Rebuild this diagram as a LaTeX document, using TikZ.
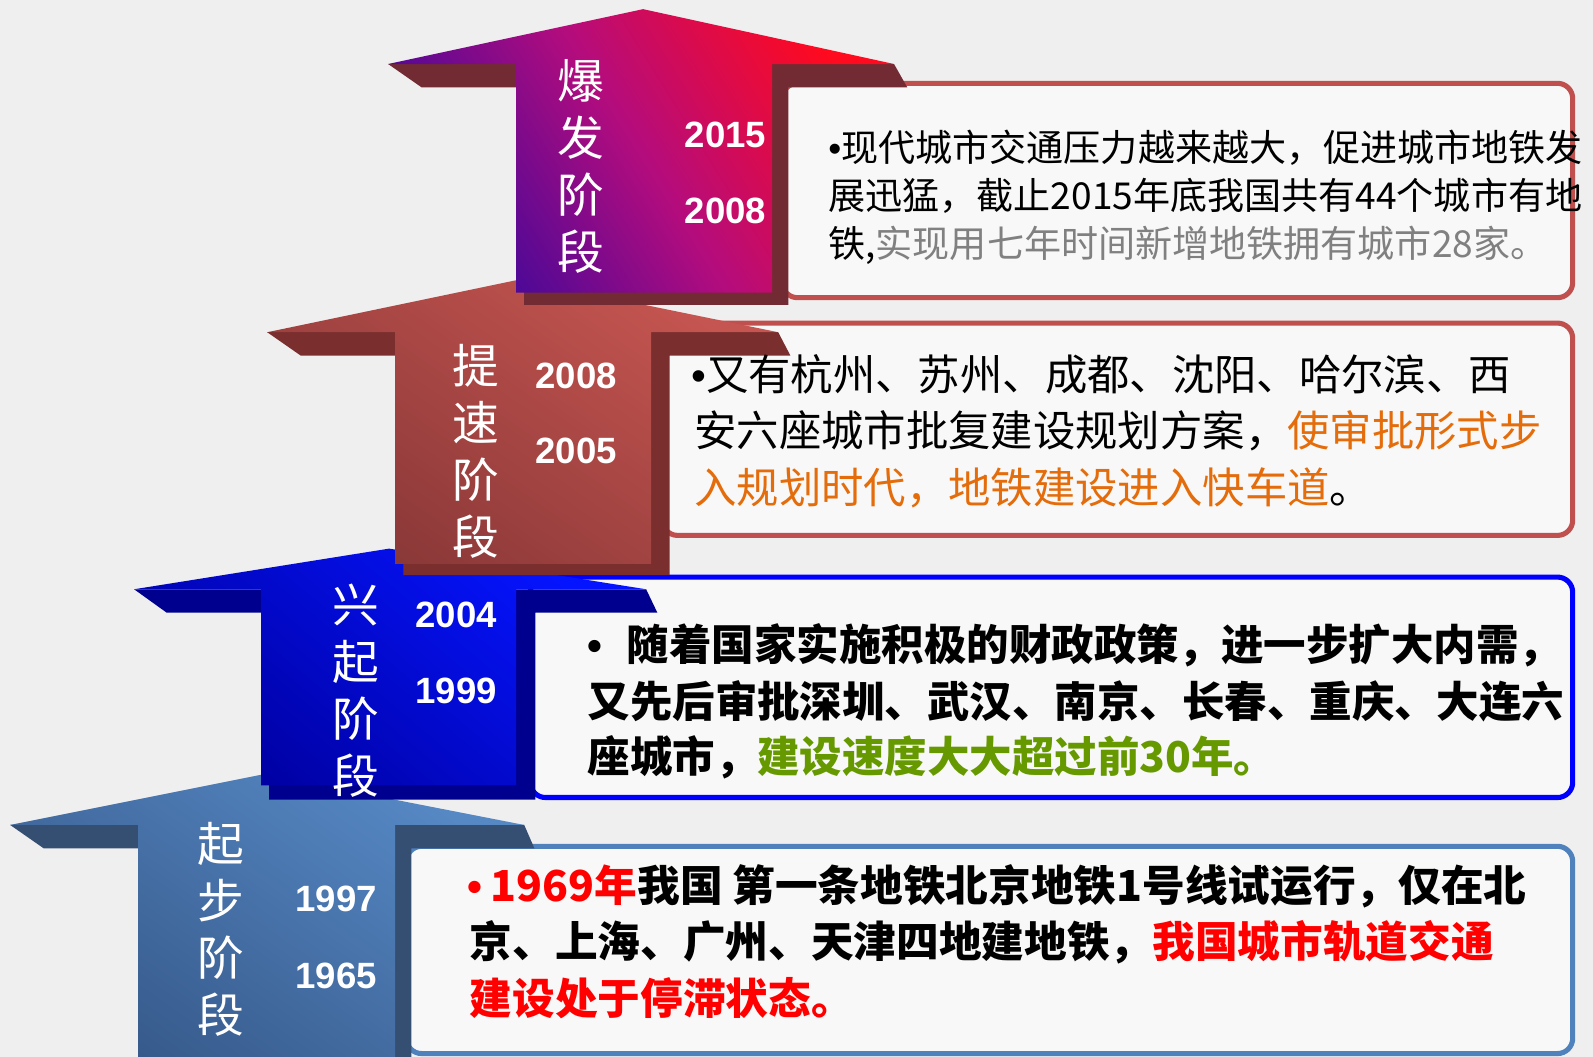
\documentclass[tikz,border=0pt]{standalone}
\usepackage{fontspec}
\setmainfont{Liberation Sans}
\newfontfamily\cjk{Noto Sans CJK SC}
\newfontfamily\lat{Liberation Sans}
\definecolor{bgc}{RGB}{239,239,239}
\definecolor{boxfill}{RGB}{248,248,248}
\definecolor{redline}{RGB}{192,80,77}
\definecolor{blueline}{RGB}{0,0,255}
\definecolor{steelline}{RGB}{79,129,189}
\definecolor{tgray}{RGB}{128,128,128}
\definecolor{torange}{RGB}{228,108,10}
\definecolor{tgreen}{RGB}{102,153,0}
\definecolor{tred}{RGB}{255,0,0}
\definecolor{aOtop}{RGB}{255,10,30}
\definecolor{aOmid}{RGB}{180,12,125}
\definecolor{aObot}{RGB}{60,8,155}
\definecolor{aOdark}{RGB}{115,43,51}
\definecolor{aTtop}{RGB}{197,85,80}
\definecolor{aTbot}{RGB}{138,56,56}
\definecolor{aTdark}{RGB}{122,46,46}
\definecolor{aHtop}{RGB}{5,20,255}
\definecolor{aHbot}{RGB}{0,0,160}
\definecolor{aHdark}{RGB}{0,0,143}
\definecolor{aFtop}{RGB}{86,136,196}
\definecolor{aFbot}{RGB}{54,89,138}
\definecolor{aFdark}{RGB}{53,79,114}
\newcommand\bul{{\lat •}}
\begin{document}
\begin{tikzpicture}[x=0.5pt,y=-0.5pt,
  infobox/.style={rounded corners=7.5pt, line width=2.5pt, fill=boxfill},
  faceO/.style={top color=aOtop, bottom color=aObot, middle color=aOmid, shading angle=-58},
  faceT/.style={top color=aTtop, bottom color=aTbot, shading angle=-35},
  faceH/.style={top color=aHtop, bottom color=aHbot, shading angle=-40},
  faceF/.style={top color=aFtop, bottom color=aFbot, shading angle=-35},
  stagelbl/.style={text=white, inner sep=0, align=center, font=\cjk\fontsize{23}{28}\selectfont},
  yearlbl/.style={text=white, inner sep=0, font=\lat\bfseries\fontsize{18}{20}\selectfont},
  tO/.style={anchor=west, inner sep=0, font=\cjk\fontsize{18.25}{20}\selectfont},
  tT/.style={anchor=west, inner sep=0, font=\cjk\fontsize{20.85}{22}\selectfont},
  tH/.style={anchor=west, inner sep=0, font=\cjk\bfseries\fontsize{20.9}{22}\selectfont},
  tF/.style={anchor=west, inner sep=0, font=\cjk\bfseries\fontsize{21}{22}\selectfont}
]
\fill[bgc] (0,0) rectangle (1568,1040);
\useasboundingbox (0,0) rectangle (1568,1040);

% ===== stage 4 (bottom) =====
\draw[infobox, draw=steelline] (400,833) rectangle (1548,1037);
\fill[aFdark] (10,812) -- (43,835) -- (144,835) -- (144,1050) -- (405,1050) -- (405,835) -- (526,835) -- (516,812) -- cycle;
\shade[faceF] (260,762) -- (10,812) -- (136,812) -- (136,1050) -- (389,1050) -- (389,812) -- (516,812) -- cycle;
\node[stagelbl] (sF) at (217,915) {起\\步\\阶\\段};
\node[yearlbl] (yF1) at (331,885) {1997};
\node[yearlbl] (yF2) at (331,961) {1965};
\node[tF] (bF1) at (460,872) {{\color{tred}\bul\hspace{4pt}1969年}我国 第一条地铁北京地铁1号线试运行，仅在北};
\node[tF] (bF2) at (462,927) {京、上海、广州、天津四地建地铁，{\color{tred}我国城市轨道交通}};
\node[tF] (bF3) at (462,982) {\color{tred}建设处于停滞状态。};

% ===== stage 3 =====
\draw[infobox, draw=blueline] (522,568) rectangle (1548,785);
\fill[aHdark] (132,580) -- (164,603) -- (265,603) -- (265,787) -- (527,787) -- (527,603) -- (647,603) -- (636,580) -- cycle;
\shade[faceH] (383,540) -- (132,580) -- (257,580) -- (257,773) -- (508,773) -- (508,580) -- (636,580) -- cycle;
\node[stagelbl] (sH) at (350,680) {兴\\起\\阶\\段};
\node[yearlbl] (yH1) at (449,605) {2004};
\node[yearlbl] (yH2) at (449,680) {1999};
\node[tH] (bH1) at (578,635) {\bul\hspace{12pt}随着国家实施积极的财政政策，进一步扩大内需，};
\node[tH] (bH2) at (578,690) {又先后审批深圳、武汉、南京、长春、重庆、大连六};
\node[tH] (bH3) at (578,745) {座城市，{\color{tgreen}建设速度大大超过前30年。}};

% ===== stage 2 =====
\draw[infobox, draw=redline] (652,318) rectangle (1548,527);
\fill[aTdark] (263,327) -- (296,350) -- (397,350) -- (397,566) -- (659,566) -- (659,350) -- (778,350) -- (766,327) -- cycle;
\shade[faceT] (512,275) -- (263,327) -- (389,327) -- (389,555) -- (641,555) -- (641,327) -- (766,327) -- cycle;
\node[stagelbl] (sT) at (468,444) {提\\速\\阶\\段};
\node[yearlbl] (yT1) at (567,370) {2008};
\node[yearlbl] (yT2) at (567,444) {2005};
\node[tT] (bT1) at (680,368) {\bul 又有杭州、苏州、成都、沈阳、哈尔滨、西};
\node[tT] (bT2) at (683,424) {安六座城市批复建设规划方案，{\color{torange}使审批形式步}};
\node[tT] (bT3) at (683,480) {{\color{torange}入规划时代，地铁建设进入快车道}。};

% ===== stage 1 (top) =====
\draw[infobox, draw=redline] (770,82) rectangle (1548,293);
\fill[aOdark] (382,63) -- (415,86) -- (516,86) -- (516,300) -- (776,300) -- (776,86) -- (893,86) -- (880,63) -- cycle;
\shade[faceO] (633,9) -- (382,63) -- (508,63) -- (508,288) -- (760,288) -- (760,63) -- (880,63) -- cycle;
\node[stagelbl] (sO) at (572,164) {爆\\发\\阶\\段};
\node[yearlbl] (yO1) at (714,133) {2015};
\node[yearlbl] (yO2) at (714,208) {2008};
\node[tO] (bO1) at (815,145) {\bul 现代城市交通压力越来越大，促进城市地铁发};
\node[tO] (bO2) at (815,193) {展迅猛，截止2015年底我国共有44个城市有地};
\node[tO] (bO3) at (815,241) {铁,{\color{tgray}实现用七年时间新增地铁拥有城市28家。}};
\end{tikzpicture}
\end{document}
